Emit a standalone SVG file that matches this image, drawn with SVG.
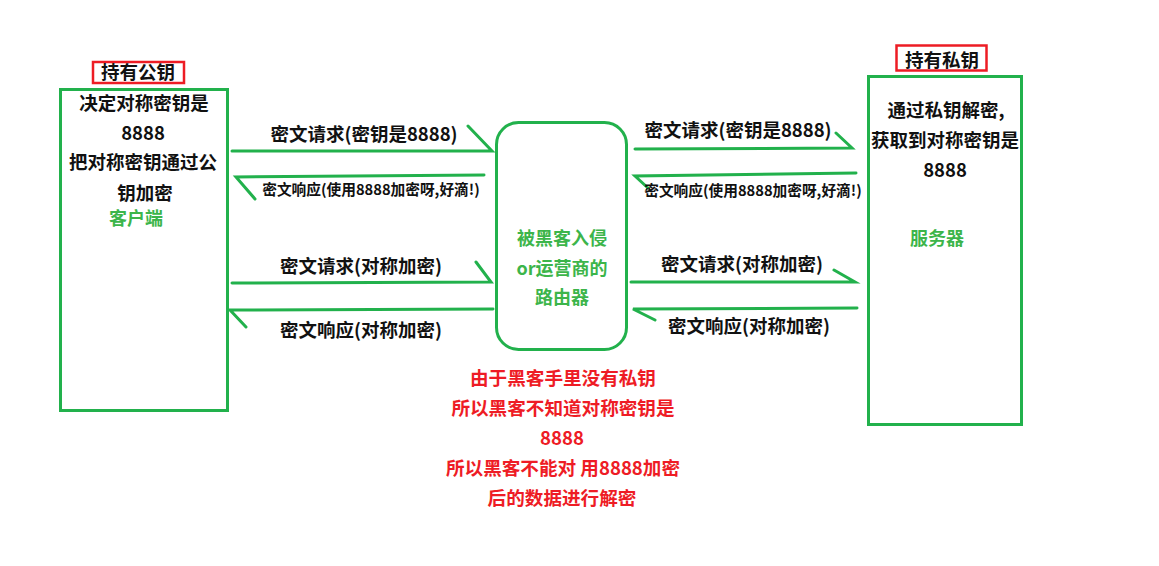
<svg xmlns="http://www.w3.org/2000/svg" width="1159" height="566" viewBox="0 0 1159 566">
<style>
text{font-family:"Noto Sans CJK SC","Noto Sans",sans-serif;font-weight:bold;text-anchor:middle}
.t{font-size:18.5px;fill:#111}
.s{font-size:14.7px;fill:#111}
.g{font-size:18px;fill:#3cb54a}
.r{font-size:18.6px;fill:#ee1c25}
.box{fill:none;stroke:#22b14c;stroke-width:3}
.red{fill:none;stroke:#ed1c24;stroke-width:2.5}
.ln{fill:none;stroke:#22b14c;stroke-width:3;stroke-linecap:round}
</style>
<rect width="1159" height="566" fill="#fff"/>
<g id="client">
<rect class="red" x="93" y="62" width="91" height="21"/>
<text class="t" x="138" y="79">持有公钥</text>
<rect class="box" x="60.5" y="89.5" width="167" height="321"/>
<text class="t" x="144" y="110">决定对称密钥是</text>
<text class="t" x="143" y="140">8888</text>
<text class="t" x="143" y="169">把对称密钥通过公</text>
<text class="t" x="145" y="200">钥加密</text>
<text class="g" x="136" y="225">客户端</text>
</g>
<g id="server">
<rect class="red" x="896.5" y="45.5" width="90" height="25"/>
<text class="t" x="942" y="67">持有私钥</text>
<rect class="box" x="868.5" y="76.5" width="153" height="348"/>
<text class="t" x="946" y="117">通过私钥解密,</text>
<text class="t" x="945" y="147">获取到对称密钥是</text>
<text class="t" x="945" y="177">8888</text>
<text class="g" x="937" y="245">服务器</text>
</g>
<g id="router">
<rect class="box" x="496.5" y="122.5" width="130" height="227" rx="22"/>
<text class="g" x="562" y="245">被黑客入侵</text>
<text class="g" x="562" y="275">or运营商的</text>
<text class="g" x="562" y="304">路由器</text>
</g>
<g id="connectors">
<path class="ln" d="M232 151 L492 151 L468 126"/>
<path class="ln" d="M484 175 L236 177 L255 199"/>
<path class="ln" d="M232 283 L491 282 L476 262"/>
<path class="ln" d="M493 309 L230 310 L246 327"/>
<path class="ln" d="M635 149 L852 148 L836 133"/>
<path class="ln" d="M856 173 L635 176 L648 188"/>
<path class="ln" d="M631 282 L855 282 L834 270"/>
<path class="ln" d="M857 308 L633 309 L655 320"/>
</g>
<g id="labels">
<text class="t" x="364" y="141">密文请求(密钥是8888)</text>
<text class="s" x="371" y="195">密文响应(使用8888加密呀,好滴!)</text>
<text class="t" x="361" y="273">密文请求(对称加密)</text>
<text class="t" x="361" y="337">密文响应(对称加密)</text>
<text class="t" x="738" y="137">密文请求(密钥是8888)</text>
<text class="s" x="753" y="196">密文响应(使用8888加密呀,好滴!)</text>
<text class="t" x="742" y="271">密文请求(对称加密)</text>
<text class="t" x="749" y="333">密文响应(对称加密)</text>
</g>
<g id="note">
<text class="r" x="563" y="385">由于黑客手里没有私钥</text>
<text class="r" x="563" y="415">所以黑客不知道对称密钥是</text>
<text class="r" x="562" y="445">8888</text>
<text class="r" x="563" y="475">所以黑客不能对 用8888加密</text>
<text class="r" x="562" y="505">后的数据进行解密</text>
</g>
</svg>
